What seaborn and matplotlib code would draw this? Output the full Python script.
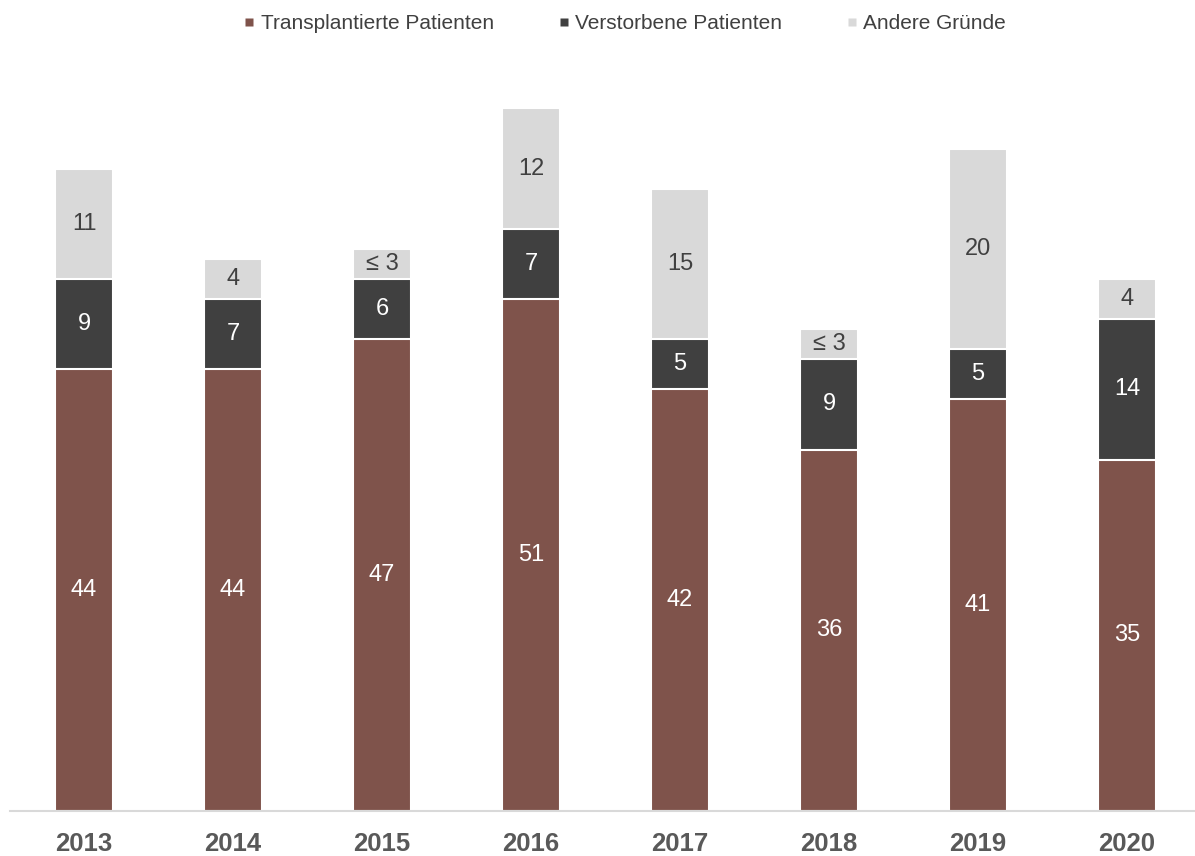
import matplotlib
matplotlib.use("Agg")
import matplotlib.pyplot as plt
import seaborn as sns
import numpy as np
import pandas as pd
from matplotlib.lines import Line2D

# Daten
years = ["2013", "2014", "2015", "2016", "2017", "2018", "2019", "2020"]
transplantiert = [44, 44, 47, 51, 42, 36, 41, 35]
verstorben = [9, 7, 6, 7, 5, 9, 5, 14]
andere = [11, 4, 3, 12, 15, 3, 20, 4]
andere_labels = ["11", "4", "≤ 3", "12", "15", "≤ 3", "20", "4"]

series_names = ["Transplantierte Patienten", "Verstorbene Patienten", "Andere Gründe"]
colors = ["#7f534b", "#404040", "#d9d9d9"]
text_colors = ["white", "white", "#404040"]

sns.set_theme(style="white")
plt.rcParams['font.family'] = ['Liberation Sans', 'DejaVu Sans']

df = pd.DataFrame({"year": years, "t": transplantiert, "v": verstorben, "a": andere})
df["tv"] = df["t"] + df["v"]
df["tva"] = df["tv"] + df["a"]

fig = plt.figure(figsize=(11.95, 8.56), dpi=100)
ax = fig.add_axes([9.5 / 1195, 45 / 856, 1192 / 1195, 803 / 856])

# gestapelte Balken: Summen übereinander zeichnen
for col, c in zip(["tva", "tv", "t"], colors[::-1]):
    sns.barplot(data=df, x="year", y=col, color=c, width=0.39, ax=ax,
                edgecolor="white", linewidth=1.5, saturation=1)

ax.set_ylim(0, 80)
ax.set_xlim(-0.5, len(years) - 0.5)

# Beschriftungen in den Segmenten
x = np.arange(len(years))
bottoms = np.zeros(len(years))
for vals, labels, tc in zip([transplantiert, verstorben, andere],
                            [None, None, andere_labels], text_colors):
    for i, v in enumerate(vals):
        lab = labels[i] if labels else str(v)
        ax.text(x[i], bottoms[i] + v / 2, lab, ha="center", va="center",
                color=tc, fontsize=17)
    bottoms += np.array(vals)

ax.set_xlabel("")
ax.set_ylabel("")
ax.set_yticks([])
ax.tick_params(axis="x", length=0, pad=15)
for lbl in ax.get_xticklabels():
    lbl.set_fontweight("bold")
    lbl.set_fontsize(18.5)
    lbl.set_color("#595959")
for s in ["top", "right", "left"]:
    ax.spines[s].set_visible(False)
ax.spines["bottom"].set_color("#d9d9d9")
ax.spines["bottom"].set_linewidth(1.5)

handles = [Line2D([0], [0], marker="s", color="none", markerfacecolor=c,
                  markeredgecolor="none", markersize=6) for c in colors]
fig.legend(handles, series_names, loc="center", bbox_to_anchor=(0.523, 0.972),
           ncol=3, frameon=False, fontsize=15, handlelength=0.5, handletextpad=0.3,
           columnspacing=3.1, labelcolor="#404040")

fig.savefig("out.png", dpi=100)
